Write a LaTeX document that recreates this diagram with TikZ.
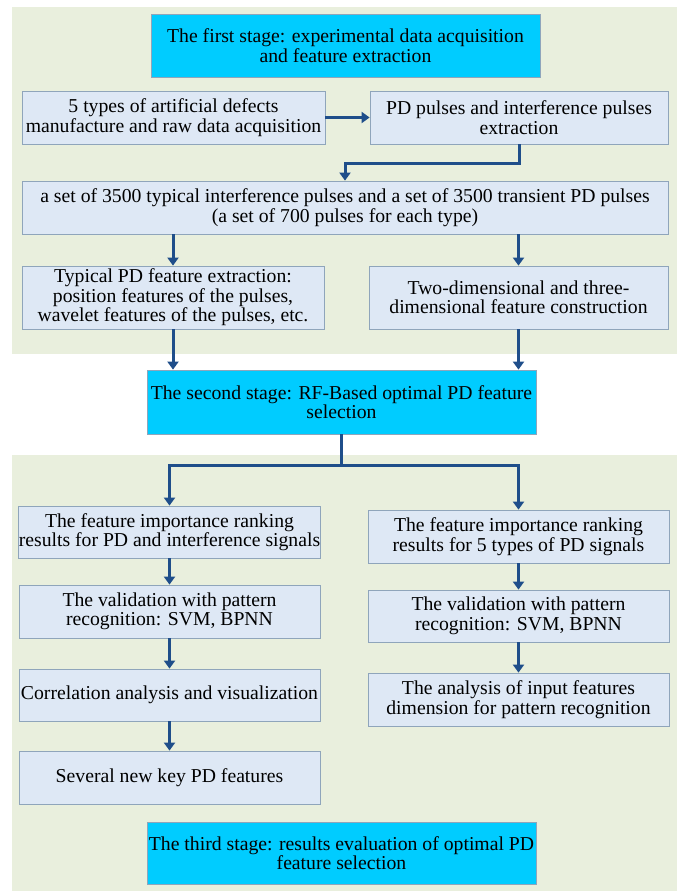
\documentclass[tikz,border=0pt]{standalone}
\usepackage{fontspec}
\setmainfont{Liberation Serif}
\usetikzlibrary{arrows.meta}
\definecolor{panelcol}{HTML}{E9EFDD}
\definecolor{boxfill}{HTML}{DEE8F5}
\definecolor{boxline}{HTML}{8FA5BB}
\definecolor{stagecol}{HTML}{00CCFF}
\definecolor{arrcol}{HTML}{1F4E8A}
\tikzset{
  panel/.style={fill=panelcol, draw=none},
  box/.style={draw=boxline, line width=0.8pt, fill=boxfill, align=center, inner sep=0pt,
     font=\fontsize{19.7}{19.5}\selectfont},
  stagebox/.style={box, fill=stagecol},
  conn/.style={draw=arrcol, line width=3pt},
  arr/.style={conn, -{Triangle[width=11pt,length=8pt]}},
}
\begin{document}
\begin{tikzpicture}[x=1pt,y=-1pt]
\useasboundingbox (0,0) rectangle (679,892);
\fill[white] (0,0) rectangle (679,892);
\path[panel] (12,7) rectangle (677,354);
\path[panel] (12,455) rectangle (677,891);

\node[stagebox, minimum width=389, minimum height=63] (T1) at (345.5,45.5)
  {The first stage: experimental data acquisition\\and feature extraction};
\node[box, minimum width=303, minimum height=53] (A) at (173.5,117.5)
  {5 types of artificial defects\\manufacture and raw data acquisition};
\node[box, minimum width=298, minimum height=53] (B) at (519,117.5)
  {PD pulses and interference pulses\\extraction};
\node[box, minimum width=646, minimum height=53] (C) at (345,207.5)
  {a set of 3500 typical interference pulses and a set of 3500 transient PD pulses\\(a set of 700 pulses for each type)};
\node[box, minimum width=302, minimum height=63] (D) at (173,297.5)
  {Typical PD feature extraction:\\position features of the pulses,\\wavelet features of the pulses, etc.};
\node[box, minimum width=299, minimum height=63] (E) at (518.5,297.5)
  {Two-dimensional and three-\\dimensional feature construction};
\node[stagebox, minimum width=389, minimum height=64] (T2) at (341.5,402)
  {The second stage: RF-Based optimal PD feature\\selection};
\node[box, minimum width=301, minimum height=52] (F) at (169.5,532)
  {The feature importance ranking\\results for PD and interference signals};
\node[box, minimum width=301, minimum height=53] (G) at (518.5,536.5)
  {The feature importance ranking\\results for 5 types of PD signals};
\node[box, minimum width=301, minimum height=53] (H) at (169.5,611.5)
  {The validation with pattern\\recognition: SVM, BPNN};
\node[box, minimum width=301, minimum height=52] (I) at (518.5,616)
  {The validation with pattern\\recognition: SVM, BPNN};
\node[box, minimum width=301, minimum height=52] (J) at (169.5,695)
  {Correlation analysis and visualization};
\node[box, minimum width=301, minimum height=53] (K) at (518.5,699.5)
  {The analysis of input features\\dimension for pattern recognition};
\node[box, minimum width=301, minimum height=53] (L) at (169.5,777.5)
  {Several new key PD features};
\node[stagebox, minimum width=389, minimum height=62] (T3) at (341.5,853)
  {The third stage: results evaluation of optimal PD\\feature selection};

\draw[arr] (A) -- (B);
\draw[arr] (B.south) -- ++(0,19) -| (C.north);
\draw[arr] (D.north |- C.south) -- (D.north);
\draw[arr] (E.north |- C.south) -- (E.north);
\draw[arr] (D.south) -- (D.south |- T2.north);
\draw[arr] (E.south) -- (E.south |- T2.north);
\draw[conn] (T2.south) -- ++(0,31) coordinate (j);
\draw[arr] (j) -| (F.north);
\draw[arr] (j) -| (G.north);
\draw[arr] (F) -- (H);
\draw[arr] (G) -- (I);
\draw[arr] (H) -- (J);
\draw[arr] (I) -- (K);
\draw[arr] (J) -- (L);
\end{tikzpicture}
\end{document}
